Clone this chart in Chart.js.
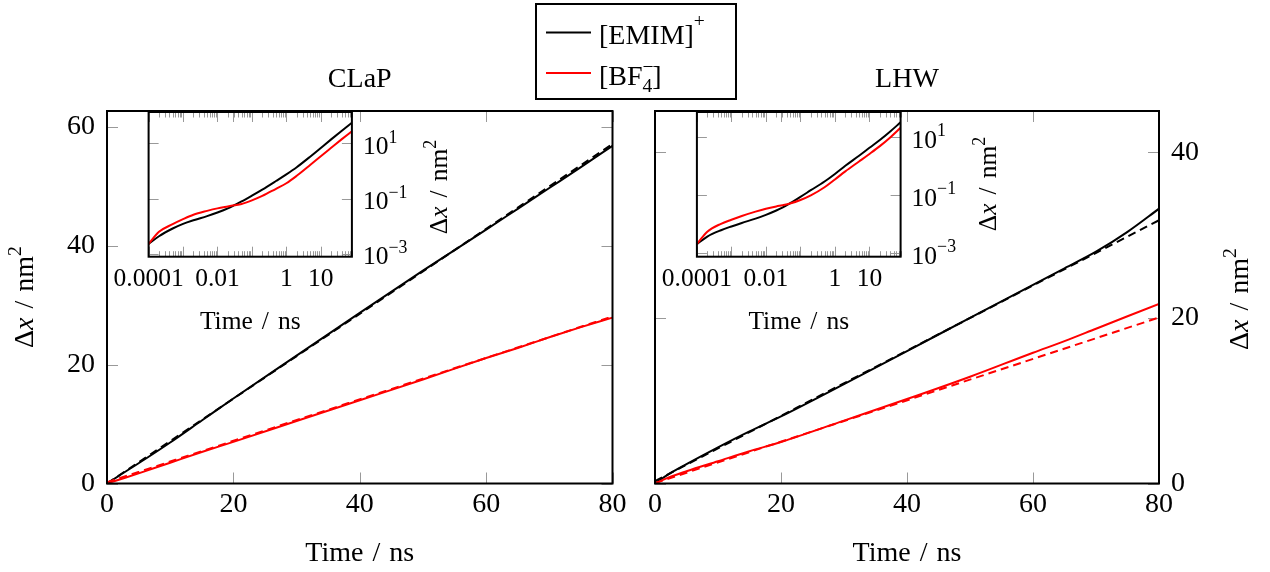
<!DOCTYPE html>
<html><head><meta charset="utf-8">
<script src="https://cdn.jsdelivr.net/npm/chart.js@4.4.1/dist/chart.umd.min.js"></script>
<style>
html,body{margin:0;padding:0;background:#fff;}
#wrap{position:relative;width:1270px;height:572px;overflow:hidden;background:#fff;}
#wrap canvas{position:absolute;left:0;top:0;}
</style></head><body>
<div id="wrap">
<canvas id="cA" width="1270" height="572"></canvas>
<canvas id="cB" width="1270" height="572"></canvas>
<canvas id="cC" width="1270" height="572"></canvas>
<canvas id="cD" width="1270" height="572"></canvas>
</div>
<script>
// ---------------- DATA ----------------
const T_MAIN = [0, 2, 5, 10, 15, 20, 30, 40, 50, 60, 65, 70, 75, 80];
const CLAP_EMIM = [0, 1.38, 3.4, 6.9, 10.6, 14.3, 21.5, 28.7, 35.8, 42.7, 46.2, 49.7, 53.2, 56.8];
const CLAP_BF4  = [0, 0.68, 1.7, 3.5, 5.3, 7.0, 10.5, 14.0, 17.5, 21.1, 22.8, 24.6, 26.3, 27.9];
const LHW_EMIM  = [0, 1.05, 2.34, 4.37, 6.3, 8.1, 12.0, 16.0, 20.0, 24.0, 26.0, 28.0, 30.4, 33.2];
const LHW_BF4   = [0, 0.68, 1.48, 2.69, 3.9, 5.01, 7.6, 10.2, 12.9, 15.8, 17.2, 18.7, 20.2, 21.7];

const T_FIT = [0, 80];
const CLAP_EMIM_FIT = [0.0, 57.1];
const CLAP_BF4_FIT  = [0.2, 28.1];
const LHW_EMIM_FIT  = [0.3, 31.8];
const LHW_BF4_FIT   = [0.05, 20.05];

const T_LOG = [1e-4, 2e-4, 5e-4, 1e-3, 2e-3, 5e-3, 0.01, 0.02, 0.03, 0.05, 0.1, 0.2, 0.5, 1, 2, 5, 10, 20, 40, 80];
const CLAP_EMIM_LOG = [0.00229, 0.00437, 0.00832, 0.0123, 0.0166, 0.0234, 0.0316, 0.0447, 0.0575, 0.0794, 0.129, 0.214, 0.437, 0.76, 1.38, 3.39, 6.92, 14.1, 28.5, 56.8];
const CLAP_BF4_LOG  = [0.00229, 0.0063, 0.012, 0.0182, 0.0263, 0.0363, 0.0447, 0.0525, 0.0575, 0.0646, 0.0871, 0.126, 0.229, 0.363, 0.676, 1.70, 3.47, 7.0, 14.1, 27.9];
const LHW_EMIM_LOG  = [0.00209, 0.0038, 0.0063, 0.0085, 0.0112, 0.0158, 0.0214, 0.0302, 0.038, 0.0537, 0.0891, 0.151, 0.302, 0.55, 1.05, 2.34, 4.37, 8.1, 16.0, 33.2];
const LHW_BF4_LOG   = [0.00209, 0.0056, 0.0105, 0.0145, 0.0195, 0.0275, 0.0347, 0.0417, 0.0457, 0.0525, 0.0692, 0.1, 0.191, 0.355, 0.676, 1.48, 2.69, 5.01, 10.0, 21.7];

const MAIN_X_TICKS = [0, 20, 40, 60, 80];
const CLAP_Y_TICKS = [0, 20, 40, 60];
const LHW_Y_TICKS  = [0, 20, 40];
const LOG_X_DECADES = [1e-4, 1e-3, 1e-2, 1e-1, 1, 10];
const LOG_X_LABEL_VALUES = [1e-4, 1e-2, 1, 10];
const LOG_X_LABELS = ['0.0001', '0.01', '1', '10'];
const LOG_Y_TICKS = [1e-3, 1e-1, 10];
const LOG_Y_EXPONENTS = ['\u22123', '\u22121', '1'];
const SERIES_LABELS = ['[EMIM]+', '[BF4]-'];
const SERIES_COLORS = ['#000000', '#ff0000'];
const PANEL_TITLES = ['CLaP', 'LHW'];

// ---------------- STYLE / LAYOUT ----------------
const SERIF = '"Liberation Serif","Times New Roman",serif';
const MAIN_PX = 28, INSET_PX = 25.5;
const TICK_COLOR = '#999';
const W = 1270, H = 572;

function pts(xs, ys) { return xs.map((x, i) => ({ x: x, y: ys[i] })); }
function lineDs(label, xs, ys, color, dashed, order) {
  return {
    label: label, data: pts(xs, ys), borderColor: color, backgroundColor: color,
    borderWidth: 2, pointRadius: 0, pointHoverRadius: 0, fill: false,
    cubicInterpolationMode: 'monotone', tension: 0,
    borderDash: dashed ? [8, 5] : [], order: order
  };
}
function fnt(p, size) { return (p.it ? 'italic ' : '') + (size * (p.s || 1)).toFixed(2) + 'px ' + SERIF; }
function richWidth(ctx, parts, size) {
  let w = 0;
  for (const p of parts) {
    if (p.gap) { w += p.gap; continue; }
    ctx.font = fnt(p, size);
    if (!p.noAdv) w += ctx.measureText(p.t).width;
  }
  return w;
}
function drawRich(ctx, parts, x, y, size, align, rot) {
  ctx.save();
  ctx.translate(x, y);
  if (rot) ctx.rotate(rot);
  let cx = align === 'center' ? -richWidth(ctx, parts, size) / 2 : 0;
  ctx.textBaseline = 'alphabetic'; ctx.textAlign = 'left'; ctx.fillStyle = '#000';
  for (const p of parts) {
    if (p.gap) { cx += p.gap; continue; }
    ctx.font = fnt(p, size);
    ctx.fillText(p.t, cx, (p.dy || 0) * size);
    if (!p.noAdv) cx += ctx.measureText(p.t).width;
  }
  ctx.restore();
}
const Y_TITLE_PARTS = [{ t: '\u0394' }, { t: 'x', it: true }, { gap: 9 }, { t: '/' }, { gap: 9 }, { t: 'nm' }, { t: '2', s: 0.7, dy: -0.42 }];
const X_TITLE_PARTS = [{ t: 'Time' }, { gap: 9 }, { t: '/' }, { gap: 9 }, { t: 'ns' }];

function tickLine(ctx, x1, y1, x2, y2) { ctx.beginPath(); ctx.moveTo(x1, y1); ctx.lineTo(x2, y2); ctx.stroke(); }

function inwardTicks(spec) {
  return {
    id: 'inwardTicks',
    beforeDatasetsDraw(chart) {
      const ctx = chart.ctx, a = chart.chartArea, sx = chart.scales.x, sy = chart.scales.y;
      ctx.save(); ctx.strokeStyle = TICK_COLOR; ctx.lineWidth = 1;
      for (const t of spec.x) {
        const px = Math.round(sx.getPixelForValue(t.v)) + 0.5;
        tickLine(ctx, px, a.bottom, px, a.bottom - t.len);
        tickLine(ctx, px, a.top, px, a.top + t.len);
      }
      for (const t of spec.y) {
        const py = Math.round(sy.getPixelForValue(t.v)) + 0.5;
        tickLine(ctx, a.left, py, a.left + t.len, py);
        tickLine(ctx, a.right, py, a.right - t.len, py);
      }
      ctx.restore();
    }
  };
}
const framePlugin = {
  id: 'frame',
  afterDatasetsDraw(chart) {
    const ctx = chart.ctx, a = chart.chartArea;
    ctx.save(); ctx.strokeStyle = '#000'; ctx.lineWidth = 2;
    ctx.strokeRect(a.left, a.top, a.right - a.left, a.bottom - a.top);
    ctx.restore();
  }
};
function textPlugin(fn) { return { id: 'texts', afterDraw(chart) { fn(chart.ctx, chart); } }; }

function makeChart(id, area, o) {
  const yW = o.yW, xH = o.xH;
  const padding = {
    left: o.yPos === 'left' ? area.l - yW : area.l,
    right: W - area.r - (o.yPos === 'right' ? yW : 0),
    top: area.t,
    bottom: H - area.b - xH
  };
  const tickFont = { family: SERIF, size: o.fontPx };
  return new Chart(document.getElementById(id), {
    type: 'line',
    data: { datasets: o.datasets },
    options: {
      responsive: false, animation: false, devicePixelRatio: 1,
      layout: { padding: padding },
      events: [],
      plugins: { legend: { display: false }, title: { display: false }, tooltip: { enabled: false } },
      scales: {
        x: {
          type: o.xType, min: o.xMin, max: o.xMax, position: 'bottom', bounds: 'data',
          grid: { display: false, drawTicks: false }, border: { display: false },
          ticks: { font: tickFont, color: '#000', padding: o.xPad, autoSkip: false, maxRotation: 0, minRotation: 0,
                   callback: o.xLabel },
          afterBuildTicks: s => { s.ticks = o.xTicks.map(v => ({ value: v })); },
          afterFit: s => { s.height = xH; }
        },
        y: {
          type: o.yType, min: o.yMin, max: o.yMax, position: o.yPos, bounds: 'data',
          grid: { display: false, drawTicks: false }, border: { display: false },
          ticks: { display: o.yLabels, font: tickFont, color: '#000', padding: o.yPad, autoSkip: false,
                   callback: v => String(v) },
          afterBuildTicks: s => { s.ticks = o.yTicks.map(v => ({ value: v })); },
          afterFit: s => { s.width = yW; }
        }
      }
    },
    plugins: [inwardTicks(o.tickSpec), framePlugin, textPlugin(o.draw)]
  });
}

function mainTickSpec(yt) {
  return { x: MAIN_X_TICKS.map(v => ({ v: v, len: 11 })), y: yt.map(v => ({ v: v, len: 11 })) };
}
function logTickSpec(xMax) {
  const x = [];
  for (const d of LOG_X_DECADES) {
    x.push({ v: d, len: 10 });
    for (let k = 2; k <= 9; k++) { const v = d * k; if (v <= xMax) x.push({ v: v, len: 5.5 }); }
  }
  return { x: x, y: LOG_Y_TICKS.map(v => ({ v: v, len: 10 })) };
}
function mainDatasets(emim, bf4, emimFit, bf4Fit) {
  return [
    lineDs(SERIES_LABELS[0], T_MAIN, emim, SERIES_COLORS[0], false, 3),
    lineDs(SERIES_LABELS[1], T_MAIN, bf4, SERIES_COLORS[1], false, 2),
    lineDs(SERIES_LABELS[0] + ' fit', T_FIT, emimFit, SERIES_COLORS[0], true, 1),
    lineDs(SERIES_LABELS[1] + ' fit', T_FIT, bf4Fit, SERIES_COLORS[1], true, 0)
  ];
}
function logDatasets(emim, bf4) {
  return [
    lineDs(SERIES_LABELS[0], T_LOG, emim, SERIES_COLORS[0], false, 1),
    lineDs(SERIES_LABELS[1], T_LOG, bf4, SERIES_COLORS[1], false, 0)
  ];
}
function logXLabel(v) {
  const i = LOG_X_LABEL_VALUES.findIndex(u => Math.abs(Math.log10(u) - Math.log10(v)) < 1e-6);
  return i >= 0 ? LOG_X_LABELS[i] : '';
}
function drawPanelTexts(ctx, chart, title, yTitleX, yTitleCY) {
  const a = chart.chartArea, cx = (a.left + a.right) / 2;
  drawRich(ctx, [{ t: title }], cx, 87, MAIN_PX, 'center');
  drawRich(ctx, X_TITLE_PARTS, cx, 561, MAIN_PX, 'center');
  drawRich(ctx, Y_TITLE_PARTS, yTitleX, yTitleCY, MAIN_PX, 'center', -Math.PI / 2);
}
function drawInsetTexts(ctx, chart, yTitleX, yTitleCY) {
  const a = chart.chartArea, cx = (a.left + a.right) / 2;
  drawRich(ctx, X_TITLE_PARTS, cx, 329, INSET_PX, 'center');
  drawRich(ctx, Y_TITLE_PARTS, yTitleX, yTitleCY, INSET_PX, 'center', -Math.PI / 2);
  const sy = chart.scales.y;
  LOG_Y_TICKS.forEach((v, i) => {
    const py = sy.getPixelForValue(v);
    drawRich(ctx, [{ t: '10' }, { t: LOG_Y_EXPONENTS[i], s: 0.7, dy: -0.45 }], a.right + 11, py + 10.5, INSET_PX, 'left');
  });
}
function drawLegend(ctx) {
  ctx.save();
  ctx.fillStyle = '#fff'; ctx.fillRect(536, 4, 200, 95);
  ctx.strokeStyle = '#000'; ctx.lineWidth = 2; ctx.strokeRect(536, 4, 200, 95);
  ctx.lineWidth = 2;
  ctx.strokeStyle = SERIES_COLORS[0]; tickLine(ctx, 546, 32.5, 591, 32.5);
  ctx.strokeStyle = SERIES_COLORS[1]; tickLine(ctx, 546, 73, 591, 73);
  ctx.restore();
  drawRich(ctx, [{ t: '[EMIM]' }, { t: '+', s: 0.7, dy: -0.6 }], 599, 43.5, MAIN_PX, 'left');
  drawRich(ctx, [{ t: '[BF' }, { t: '\u2212', s: 0.7, dy: -0.43, noAdv: true }, { t: '4', s: 0.7, dy: 0.25 }, { t: ']' }], 599, 85, MAIN_PX, 'left');
}

// ---------------- CHARTS ----------------
makeChart('cA', { l: 107, r: 612.5, t: 111, b: 483.5 }, {
  datasets: mainDatasets(CLAP_EMIM, CLAP_BF4, CLAP_EMIM_FIT, CLAP_BF4_FIT),
  xType: 'linear', xMin: 0, xMax: 80, xTicks: MAIN_X_TICKS, xLabel: v => String(v), xPad: 4,
  yType: 'linear', yMin: 0, yMax: 62.65, yTicks: CLAP_Y_TICKS, yPos: 'left', yLabels: true, yPad: 12,
  yW: 50, xH: 40, fontPx: MAIN_PX, tickSpec: mainTickSpec(CLAP_Y_TICKS),
  draw: (ctx, chart) => { drawPanelTexts(ctx, chart, PANEL_TITLES[0], 33, 297); drawLegend(ctx); }
});
makeChart('cB', { l: 655, r: 1159, t: 111, b: 483.5 }, {
  datasets: mainDatasets(LHW_EMIM, LHW_BF4, LHW_EMIM_FIT, LHW_BF4_FIT),
  xType: 'linear', xMin: 0, xMax: 80, xTicks: MAIN_X_TICKS, xLabel: v => String(v), xPad: 4,
  yType: 'linear', yMin: 0, yMax: 45.0, yTicks: LHW_Y_TICKS, yPos: 'right', yLabels: true, yPad: 12,
  yW: 50, xH: 40, fontPx: MAIN_PX, tickSpec: mainTickSpec(LHW_Y_TICKS),
  draw: (ctx, chart) => { drawPanelTexts(ctx, chart, PANEL_TITLES[1], 1248, 299); }
});
makeChart('cC', { l: 148.6, r: 351.9, t: 112, b: 256.7 }, {
  datasets: logDatasets(CLAP_EMIM_LOG, CLAP_BF4_LOG),
  xType: 'logarithmic', xMin: 1e-4, xMax: 80, xTicks: LOG_X_LABEL_VALUES, xLabel: logXLabel, xPad: 7,
  yType: 'logarithmic', yMin: Math.pow(10, -3.101), yMax: Math.pow(10, 2.141), yTicks: LOG_Y_TICKS, yPos: 'right', yLabels: false, yPad: 11,
  yW: 60, xH: 30, fontPx: INSET_PX, tickSpec: logTickSpec(80),
  draw: (ctx, chart) => { drawInsetTexts(ctx, chart, 446.5, 187); }
});
makeChart('cD', { l: 696.9, r: 900.6, t: 112, b: 256.7 }, {
  datasets: logDatasets(LHW_EMIM_LOG, LHW_BF4_LOG),
  xType: 'logarithmic', xMin: 1e-4, xMax: 80, xTicks: LOG_X_LABEL_VALUES, xLabel: logXLabel, xPad: 7,
  yType: 'logarithmic', yMin: Math.pow(10, -3.114), yMax: Math.pow(10, 1.876), yTicks: LOG_Y_TICKS, yPos: 'right', yLabels: false, yPad: 11,
  yW: 60, xH: 30, fontPx: INSET_PX, tickSpec: logTickSpec(80),
  draw: (ctx, chart) => { drawInsetTexts(ctx, chart, 996, 184); }
});
</script>
</body></html>
